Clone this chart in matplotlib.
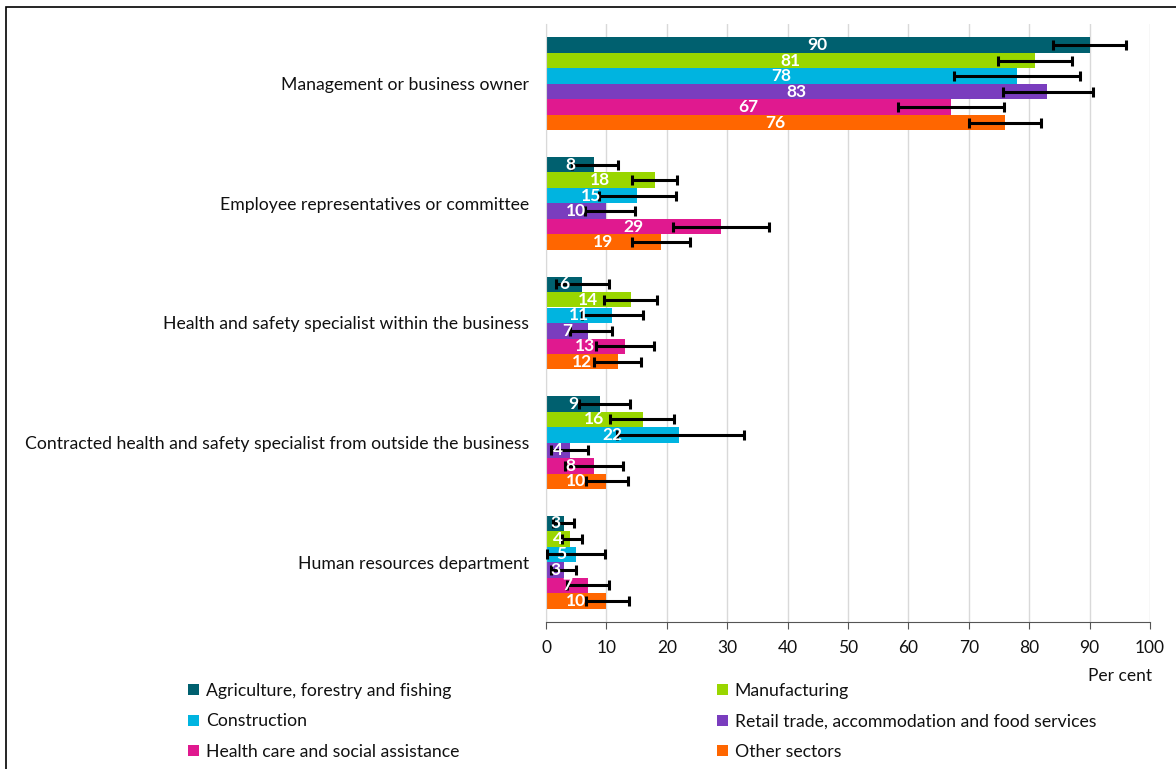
import matplotlib
matplotlib.use("Agg")
import matplotlib.pyplot as plt
from matplotlib.patches import Patch, Rectangle
import numpy as np

plt.rcParams['font.family'] = ['Lato', 'DejaVu Sans']

categories = [
    "Management or business owner",
    "Employee representatives or committee",
    "Health and safety specialist within the business",
    "Contracted health and safety specialist from outside the business",
    "Human resources department",
]
sectors = [
    "Agriculture, forestry and fishing",
    "Manufacturing",
    "Construction",
    "Retail trade, accommodation and food services",
    "Health care and social assistance",
    "Other sectors",
]
colors = ["#00606F", "#99D600", "#00B4E0", "#7A3DBE", "#E0198F", "#FF6600"]

# values[sector][category]
agri = [90, 8, 6, 9, 3]
manuf = [81, 18, 14, 16, 4]
constr = [78, 15, 11, 22, 5]
retail = [83, 10, 7, 4, 3]
health = [67, 29, 13, 8, 7]
other = [76, 19, 12, 10, 10]

# confidence intervals (low, high)
agri_lo = [84.0, 4.3, 1.6, 5.4, 1.1]
agri_hi = [96.0, 11.9, 10.4, 13.9, 4.6]
manuf_lo = [74.8, 14.2, 9.6, 10.6, 2.6]
manuf_hi = [87.1, 21.7, 18.3, 21.2, 6.0]
constr_lo = [67.6, 8.7, 5.9, 11.7, 0.2]
constr_hi = [88.4, 21.5, 16.1, 32.7, 9.7]
retail_lo = [75.6, 6.5, 4.0, 0.9, 0.8]
retail_hi = [90.6, 14.7, 10.9, 7.0, 5.0]
health_lo = [58.3, 21.1, 8.3, 3.1, 3.4]
health_hi = [75.8, 36.9, 17.8, 12.8, 10.5]
other_lo = [70.1, 14.2, 8.0, 6.7, 6.6]
other_hi = [82.0, 23.8, 15.8, 13.5, 13.8]

series = [agri, manuf, constr, retail, health, other]
lows = [agri_lo, manuf_lo, constr_lo, retail_lo, health_lo, other_lo]
highs = [agri_hi, manuf_hi, constr_hi, retail_hi, health_hi, other_hi]

W, H = 1176, 769
fig = plt.figure(figsize=(W / 100, H / 100), dpi=100)
ax = fig.add_axes([546 / W, 1 - 622 / H, (1150 - 546) / W, (622 - 24) / H])

y = np.arange(len(categories))
h = 15.5 / 119.6
for j, (vals, lo, hi, c) in enumerate(zip(series, lows, highs, colors)):
    pos = y + (j - 2.5) * h
    ax.barh(pos, vals, height=h, color=c, zorder=2)
    vals_a = np.array(vals, dtype=float)
    xerr = np.vstack([vals_a - np.array(lo), np.array(hi) - vals_a])
    ax.errorbar(vals_a, pos, xerr=xerr, fmt='none', ecolor='black',
                elinewidth=2.2, capsize=3.5, capthick=2.2, zorder=3)
    for p, v in zip(pos, vals):
        ax.text(v / 2, p, str(v), ha='center', va='center', color='white',
                fontsize=12.5, fontweight='bold', zorder=4)

ax.set_ylim(len(categories) - 0.5, -0.5)
ax.set_xlim(0, 100)
ax.set_xticks(np.arange(0, 101, 10))
ax.set_yticks(y)
ax.set_yticklabels(categories, fontsize=12.7, color='#111111')
ax.tick_params(axis='y', length=0, pad=12)
ax.tick_params(axis='x', direction='out', length=5, color='#555555',
               labelsize=12.5, labelcolor='#111111', pad=8)
ax.grid(axis='x', color='#D9D9D9', linewidth=1, zorder=0)
ax.set_axisbelow(True)
for s in ['top', 'right']:
    ax.spines[s].set_visible(False)
ax.spines['left'].set_color('#D9D9D9')
ax.spines['bottom'].set_color('#555555')

fig.text(1152 / W, 1 - 676 / H, "Per cent", ha='right', va='center',
         fontsize=12.5, color='#111111')

handles = [Patch(facecolor=c, edgecolor='none') for c in colors]
left_idx = [0, 2, 4]
right_idx = [1, 3, 5]
common = dict(frameon=False, fontsize=12.7, handlelength=0.6, handleheight=0.6,
              handletextpad=0.4, labelspacing=0.82, borderaxespad=0,
              borderpad=0, labelcolor='#111111')
leg1 = fig.legend([handles[i] for i in left_idx], [sectors[i] for i in left_idx],
                  loc='upper left', bbox_to_anchor=(188 / W, 1 - 683 / H), **common)
leg2 = fig.legend([handles[i] for i in right_idx], [sectors[i] for i in right_idx],
                  loc='upper left', bbox_to_anchor=(717 / W, 1 - 683 / H), **common)

fig.patches.append(Rectangle((6 / W, -0.02), 1.0, 1 - 7 / H + 0.02,
                             transform=fig.transFigure, fill=False,
                             edgecolor='black', linewidth=1.2))

fig.savefig("out.png", dpi=100)
